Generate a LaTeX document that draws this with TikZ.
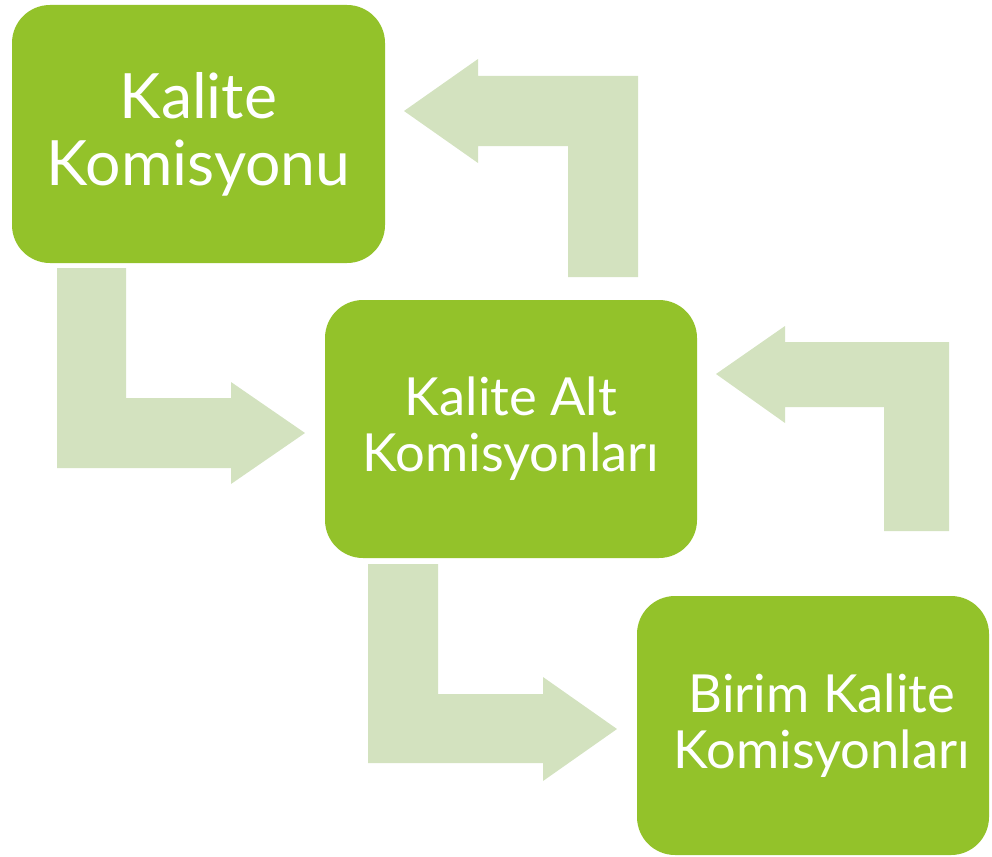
\documentclass[tikz,border=0pt]{standalone}
\usepackage{fontspec}
\setmainfont{Lato}
\definecolor{boxgreen}{HTML}{93C22A}
\definecolor{arrowgreen}{HTML}{D3E2BF}
\tikzset{
  gbox/.style={fill=boxgreen, draw=none, rounded corners=38pt, text=white, align=center, inner sep=0pt},
  bigtext/.style={font=\fontsize{62.5}{67}\selectfont},
  midtext/.style={font=\fontsize{52.5}{56}\selectfont},
  blockarrow/.style={fill=arrowgreen, draw=none}
}
\begin{document}
\begin{tikzpicture}[x=1pt,y=-1pt]
\useasboundingbox (0,0) rectangle (992,856);
% boxes
\node[gbox, bigtext, minimum width=373pt, minimum height=258pt] (kk) at (198.5,134) {Kalite\\Komisyonu};
\node[gbox, midtext, minimum width=372pt, minimum height=258pt] (kak) at (511,429) {Kalite Alt\\Komisyonları};
\node[gbox, midtext, minimum width=352pt, minimum height=259pt] (bkk) at (813,725.5) {\hspace*{18pt}Birim Kalite\\\hspace*{18pt}Komisyonları};
% arrow A: kk -> kak
\fill[blockarrow] (57,268) -- (126,268) -- (126,398) -- (231,398) -- (231,382) -- (305,433) -- (231,484) -- (231,468) -- (57,468) -- cycle;
% arrow B: kak -> kk
\fill[blockarrow] (638,277) -- (568,277) -- (568,146) -- (478,146) -- (478,163) -- (404,111) -- (478,59) -- (478,76) -- (638,76) -- cycle;
% arrow C: bkk -> kak
\fill[blockarrow] (949,531) -- (884,531) -- (884,407) -- (785,407) -- (785,423) -- (716,374) -- (785,326) -- (785,342) -- (949,342) -- cycle;
% arrow D: kak -> bkk
\fill[blockarrow] (368,564) -- (438,564) -- (438,694) -- (543,694) -- (543,677) -- (617,729) -- (543,781) -- (543,763) -- (368,763) -- cycle;
\end{tikzpicture}
\end{document}
